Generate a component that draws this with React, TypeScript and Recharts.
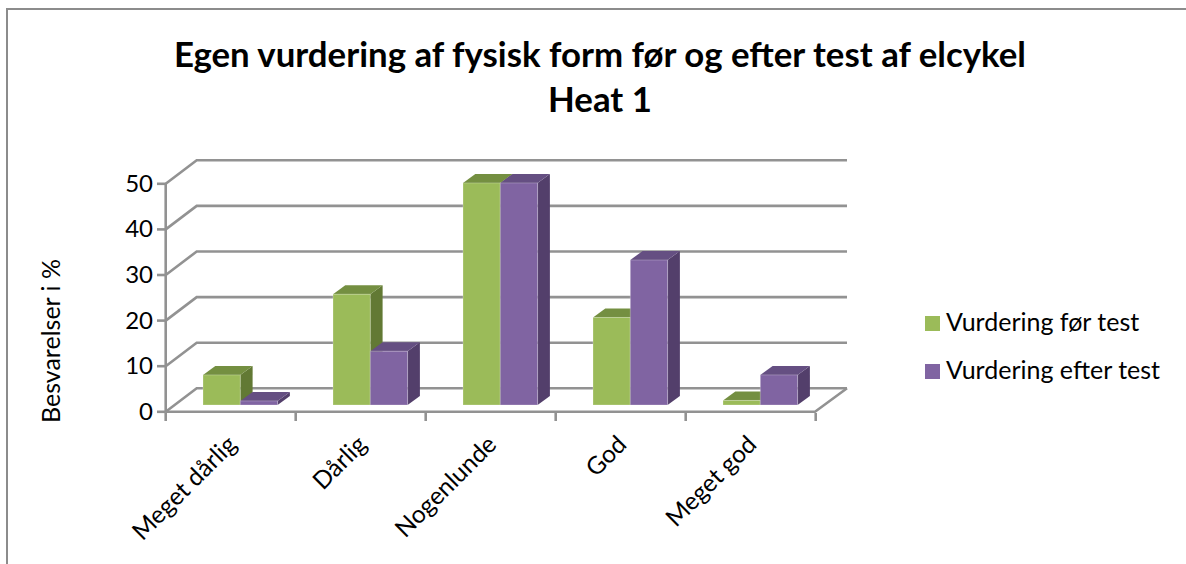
import React from "react";
import { BarChart, Bar, XAxis, YAxis, CartesianGrid, Legend } from "recharts";

const categories = ["Meget dårlig", "Dårlig", "Nogenlunde", "God", "Meget god"];
const before = [6.6, 24.3, 48.7, 19.2, 1.0];
const after = [0.9, 11.8, 48.7, 31.8, 6.6];
const yTicks = [0, 10, 20, 30, 40, 50];
const titleLines = ["Egen vurdering af fysisk form før og efter test af elcykel", "Heat 1"];
const yTitle = "Besvarelser i %";
const seriesNames = ["Vurdering før test", "Vurdering efter test"];

const data = categories.map((c, i) => ({ c, before: before[i], after: after[i] }));

const FONT = "Lato, Carlito, sans-serif";
const GRID = "#929292";
const GRID_W = 2.6;
const FRONT_X = 165.7;
const BACK_X = 196.7;
const RIGHT_X = 847;
const FRONT_END = 815;
const BAND = 130;
const SHIFT_X = 9.3;

const palette: Record<string, { front: string; top: string; side: string }> = {
  before: { front: "#9BBB59", top: "#748F41", side: "#627934" },
  after: { front: "#8064A2", top: "#654F82", side: "#533F6B" },
};

const box3d = (key: string) => (p: any) => {
  const { x, y, width, height } = p;
  const c = palette[key];
  const dx = 12.3;
  const dy = 9;
  return (
    <g>
      <polygon points={`${x + width},${y} ${x + width + dx},${y - dy} ${x + width + dx},${y + height - dy} ${x + width},${y + height}`} fill={c.side} />
      <polygon points={`${x},${y} ${x + dx},${y - dy} ${x + width + dx},${y - dy} ${x + width},${y}`} fill={c.top} />
      <rect x={x} y={y} width={width} height={height} fill={c.front} stroke="#fff" strokeOpacity={0.25} strokeWidth={1} />
    </g>
  );
};

const gridLine = (p: any) => {
  const y = p.y1;
  const isBase = Math.abs(y - 405) < 1;
  const fy = y + 6.8;
  const by = y - 16.7;
  return (
    <g key={`g-${y}`} fill="none" stroke={GRID} strokeWidth={GRID_W}>
      <polyline points={`${FRONT_X},${fy} ${BACK_X},${by} ${RIGHT_X},${by}`} />
      {isBase && <polyline points={`${FRONT_X},${fy} ${FRONT_END},${fy} ${RIGHT_X},${by}`} />}
      {isBase && <line x1={FRONT_X} y1={fy + 1} x2={FRONT_X} y2={183} />}
    </g>
  );
};

const YTick = (p: any) => {
  const fy = p.y + 6.8;
  return (
    <g>
      <line x1={157} y1={fy} x2={FRONT_X} y2={fy} stroke={GRID} strokeWidth={GRID_W} />
      <text x={153} y={fy + 8} textAnchor="end" fontFamily={FONT} fontSize={24} fill="#000">
        {p.payload.value}
      </text>
    </g>
  );
};

const XTick = (p: any) => {
  const left = p.x - SHIFT_X - BAND / 2;
  const top = 413;
  const ax = p.x - 2;
  const ay = 446;
  return (
    <g>
      <line x1={left} y1={top} x2={left} y2={top + 8} stroke={GRID} strokeWidth={GRID_W} />
      {p.index === categories.length - 1 && (
        <line x1={left + BAND} y1={top} x2={left + BAND} y2={top + 8} stroke={GRID} strokeWidth={GRID_W} />
      )}
      <text
        x={ax}
        y={ay}
        textAnchor="end"
        transform={`rotate(-45 ${ax} ${ay})`}
        fontFamily={FONT}
        fontSize={24.5}
        fill="#000"
      >
        {p.payload.value}
      </text>
    </g>
  );
};

const LegendBox = () => (
  <div style={{ fontFamily: FONT, fontSize: 25, color: "#000" }}>
    {seriesNames.map((n, i) => (
      <div key={n} style={{ display: "flex", alignItems: "center", height: 48, whiteSpace: "nowrap" }}>
        <span style={{ width: 15, height: 15, marginRight: 6, background: i === 0 ? palette.before.front : palette.after.front }} />
        <span style={{ position: "relative", top: -2 }}>{n}</span>
      </div>
    ))}
  </div>
);

export default function App() {
  return (
    <div style={{ position: "absolute", left: 0, top: 0, width: 1186, height: 564, overflow: "hidden", background: "#fff" }}>
      <BarChart
        width={1186}
        height={564}
        data={data}
        margin={{ top: 177, right: 101, bottom: 0, left: 0 }}
        barSize={37.3}
        barGap={0}
      >
        <rect x={7} y={9} width={1300} height={700} fill="none" stroke="#8c8c8c" strokeWidth={2} />
        <text x={600} y={67} textAnchor="middle" fontFamily={FONT} fontWeight={700} fontSize={34.8} fill="#000">
          {titleLines[0]}
        </text>
        <text x={600} y={112} textAnchor="middle" fontFamily={FONT} fontWeight={700} fontSize={34.8} fill="#000">
          {titleLines[1]}
        </text>
        <text
          x={60}
          y={341}
          textAnchor="middle"
          transform="rotate(-90 60 341)"
          fontFamily={FONT}
          fontSize={25}
          fill="#000"
        >
          {yTitle}
        </text>
        <CartesianGrid horizontal={gridLine} vertical={false} syncWithTicks />
        <XAxis dataKey="c" axisLine={false} tickLine={false} tick={<XTick />} interval={0} height={159} />
        <YAxis domain={[0, 50]} ticks={yTicks} axisLine={false} tickLine={false} tick={<YTick />} width={175} />
        <Legend
          layout="vertical"
          align="right"
          verticalAlign="middle"
          content={<LegendBox />}
          wrapperStyle={{ left: 925, top: 299, right: "auto", width: 260 }}
        />
        <Bar dataKey="before" name={seriesNames[0]} shape={box3d("before")} isAnimationActive={false} />
        <Bar dataKey="after" name={seriesNames[1]} shape={box3d("after")} isAnimationActive={false} />
      </BarChart>
    </div>
  );
}
